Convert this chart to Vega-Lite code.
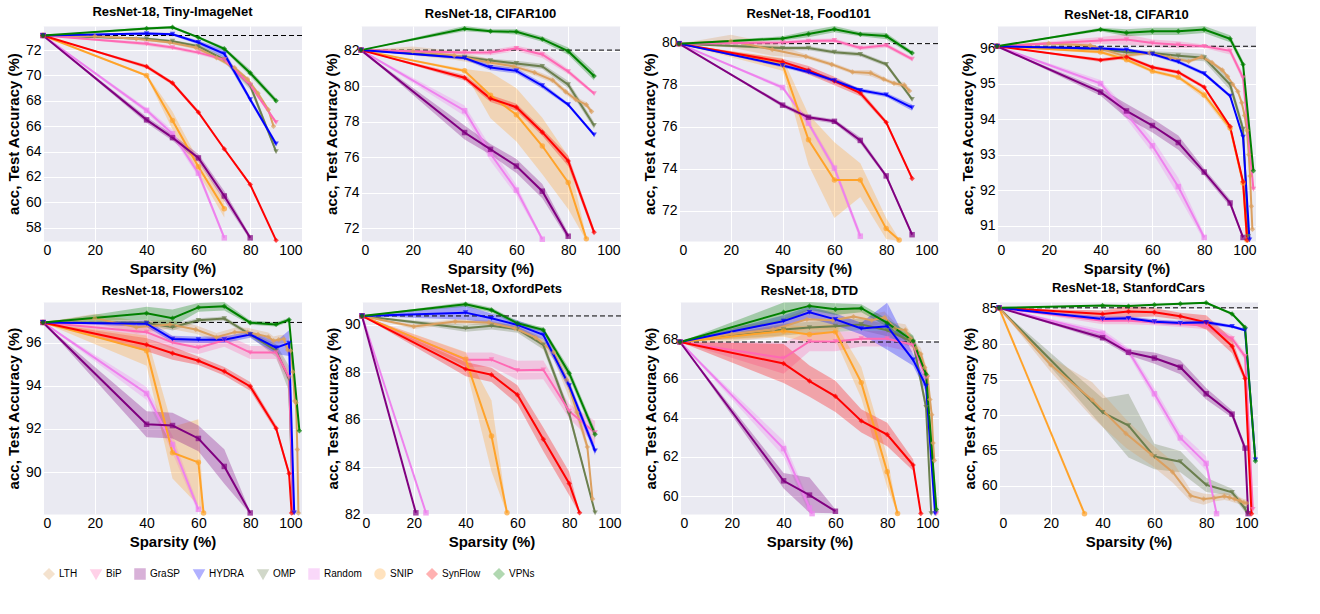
{
"$schema": "https://vega.github.io/schema/vega-lite/v6.json",
"spacing": 4,
"config": {
  "view": {"fill": "#eaeaf2", "stroke": "transparent"},
  "axis": {"gridColor": "white", "domain": false, "ticks": false, "labelFontSize": 14, "titleFontSize": 15}
},
"vconcat": [
{"hconcat": [
{
"title": "ResNet-18, Tiny-ImageNet", "width": 259, "height": 215,
"data": {"values": [
{"method":"Dense","sparsity":0,"acc":73.15,"err":0},
{"method":"OMP","sparsity":0,"acc":73.15,"err":0},{"method":"OMP","sparsity":40,"acc":72.9,"err":0.1},{"method":"OMP","sparsity":50,"acc":72.7,"err":0.1},{"method":"OMP","sparsity":60,"acc":72.3,"err":0.15},{"method":"OMP","sparsity":70,"acc":71.25,"err":0.2},{"method":"OMP","sparsity":80,"acc":69.2,"err":0.3},{"method":"OMP","sparsity":90,"acc":64.0,"err":0.2},
{"method":"LTH","sparsity":0,"acc":73.15,"err":0},{"method":"LTH","sparsity":20,"acc":73.1,"err":0.1},{"method":"LTH","sparsity":36,"acc":72.9,"err":0.1},{"method":"LTH","sparsity":49,"acc":72.6,"err":0.1},{"method":"LTH","sparsity":59,"acc":72.2,"err":0.15},{"method":"LTH","sparsity":67,"acc":71.4,"err":0.15},{"method":"LTH","sparsity":74,"acc":70.6,"err":0.15},{"method":"LTH","sparsity":79,"acc":69.7,"err":0.15},{"method":"LTH","sparsity":83,"acc":68.6,"err":0.15},{"method":"LTH","sparsity":87,"acc":67.3,"err":0.15},{"method":"LTH","sparsity":89,"acc":66.0,"err":0.15},
{"method":"Random","sparsity":0,"acc":73.15,"err":0},{"method":"Random","sparsity":40,"acc":67.25,"err":0.2},{"method":"Random","sparsity":50,"acc":65.4,"err":0.3},{"method":"Random","sparsity":60,"acc":62.3,"err":0.3},{"method":"Random","sparsity":70,"acc":57.2,"err":0.2},
{"method":"BiP","sparsity":0,"acc":73.15,"err":0},{"method":"BiP","sparsity":40,"acc":72.5,"err":0.15},{"method":"BiP","sparsity":50,"acc":72.2,"err":0.15},{"method":"BiP","sparsity":60,"acc":71.8,"err":0.15},{"method":"BiP","sparsity":70,"acc":71.25,"err":0.15},{"method":"BiP","sparsity":80,"acc":69.25,"err":0.15},{"method":"BiP","sparsity":90,"acc":66.3,"err":0.15},
{"method":"SNIP","sparsity":0,"acc":73.15,"err":0},{"method":"SNIP","sparsity":40,"acc":70.0,"err":0.1},{"method":"SNIP","sparsity":50,"acc":66.45,"err":0.7},{"method":"SNIP","sparsity":60,"acc":62.8,"err":0.5},{"method":"SNIP","sparsity":70,"acc":59.5,"err":0.7},
{"method":"GraSP","sparsity":0,"acc":73.15,"err":0},{"method":"GraSP","sparsity":40,"acc":66.5,"err":0.25},{"method":"GraSP","sparsity":50,"acc":65.1,"err":0.25},{"method":"GraSP","sparsity":60,"acc":63.5,"err":0.3},{"method":"GraSP","sparsity":70,"acc":60.5,"err":0.4},{"method":"GraSP","sparsity":80,"acc":57.2,"err":0.2},
{"method":"SynFlow","sparsity":0,"acc":73.15,"err":0},{"method":"SynFlow","sparsity":40,"acc":70.7,"err":0.15},{"method":"SynFlow","sparsity":50,"acc":69.4,"err":0.15},{"method":"SynFlow","sparsity":60,"acc":67.1,"err":0.15},{"method":"SynFlow","sparsity":70,"acc":64.2,"err":0.1},{"method":"SynFlow","sparsity":80,"acc":61.4,"err":0.1},{"method":"SynFlow","sparsity":90,"acc":57.0,"err":0.05},
{"method":"HYDRA","sparsity":0,"acc":73.15,"err":0},{"method":"HYDRA","sparsity":40,"acc":73.3,"err":0.1},{"method":"HYDRA","sparsity":50,"acc":73.25,"err":0.1},{"method":"HYDRA","sparsity":60,"acc":72.6,"err":0.15},{"method":"HYDRA","sparsity":70,"acc":71.7,"err":0.3},{"method":"HYDRA","sparsity":80,"acc":68.1,"err":0.2},{"method":"HYDRA","sparsity":90,"acc":64.6,"err":0.2},
{"method":"VPNs","sparsity":0,"acc":73.15,"err":0},{"method":"VPNs","sparsity":40,"acc":73.7,"err":0.1},{"method":"VPNs","sparsity":50,"acc":73.8,"err":0.1},{"method":"VPNs","sparsity":60,"acc":73.0,"err":0.1},{"method":"VPNs","sparsity":70,"acc":72.1,"err":0.15},{"method":"VPNs","sparsity":80,"acc":70.2,"err":0.25},{"method":"VPNs","sparsity":90,"acc":68.0,"err":0.2}
]},
"layer": [
 {"transform": [{"filter": "datum.method != 'Dense'"}], "mark": {"type": "errorband"}, "encoding": {"x": {"field": "sparsity", "type": "quantitative"}, "y": {"field": "acc", "type": "quantitative"}, "yError": {"field": "err"}, "color": {"field": "method", "type": "nominal"}}},
 {"transform": [{"filter": "datum.method == 'Dense'"}], "mark": {"type": "rule", "strokeDash": [5, 3]}, "encoding": {"y": {"field": "acc", "type": "quantitative"}}},
 {"transform": [{"filter": "datum.method != 'Dense'"}], "mark": {"type": "line"}, "encoding": {
   "x": {"field": "sparsity", "type": "quantitative", "scale": {"domain": [0, 100], "nice": false}, "title": "Sparsity (%)"},
   "y": {"field": "acc", "type": "quantitative", "scale": {"zero": false, "nice": false}, "title": "Test Accuracy (%)"},
   "color": {"field": "method", "type": "nominal", "scale": {"domain": ["LTH","BiP","GraSP","HYDRA","OMP","Random","SNIP","SynFlow","VPNs"], "range": ["#dba060","#ff69b4","#800080","#0000ff","#6b7f4e","#ee82ee","#ffa32a","#ff0000","#008000"]}, "legend": {"orient": "bottom", "title": null}}}},
 {"transform": [{"filter": "datum.method != 'Dense'"}], "mark": {"type": "point", "filled": true}, "encoding": {"x": {"field": "sparsity", "type": "quantitative"}, "y": {"field": "acc", "type": "quantitative"}, "color": {"field": "method", "type": "nominal"},
   "shape": {"field": "method", "type": "nominal", "scale": {"domain": ["LTH","BiP","GraSP","HYDRA","OMP","Random","SNIP","SynFlow","VPNs"], "range": ["diamond","triangle-down","square","triangle-down","triangle-down","square","circle","diamond","diamond"]}, "legend": {"orient": "bottom", "title": null}}}}
]
},
{
"title": "ResNet-18, CIFAR100", "width": 259, "height": 215,
"data": {"values": [
{"method":"Dense","sparsity":0,"acc":82.05,"err":0},
{"method":"OMP","sparsity":0,"acc":82.05,"err":0},{"method":"OMP","sparsity":40,"acc":81.66,"err":0.1},{"method":"OMP","sparsity":50,"acc":81.46,"err":0.1},{"method":"OMP","sparsity":60,"acc":81.3,"err":0.15},{"method":"OMP","sparsity":70,"acc":81.13,"err":0.15},{"method":"OMP","sparsity":80,"acc":80.1,"err":0.2},{"method":"OMP","sparsity":90,"acc":77.8,"err":0.2},
{"method":"LTH","sparsity":0,"acc":82.05,"err":0},{"method":"LTH","sparsity":20,"acc":82.0,"err":0.25},{"method":"LTH","sparsity":36,"acc":81.75,"err":0.25},{"method":"LTH","sparsity":49,"acc":81.37,"err":0.2},{"method":"LTH","sparsity":59,"acc":81.13,"err":0.15},{"method":"LTH","sparsity":67,"acc":80.78,"err":0.15},{"method":"LTH","sparsity":74,"acc":80.35,"err":0.15},{"method":"LTH","sparsity":79,"acc":79.7,"err":0.15},{"method":"LTH","sparsity":83,"acc":79.26,"err":0.15},{"method":"LTH","sparsity":87,"acc":78.97,"err":0.15},{"method":"LTH","sparsity":89,"acc":78.58,"err":0.15},
{"method":"Random","sparsity":0,"acc":82.05,"err":0},{"method":"Random","sparsity":40,"acc":78.63,"err":0.3},{"method":"Random","sparsity":50,"acc":76.2,"err":0.4},{"method":"Random","sparsity":60,"acc":74.15,"err":0.3},{"method":"Random","sparsity":70,"acc":71.38,"err":0.1},
{"method":"BiP","sparsity":0,"acc":82.05,"err":0},{"method":"BiP","sparsity":40,"acc":81.91,"err":0.1},{"method":"BiP","sparsity":50,"acc":81.91,"err":0.15},{"method":"BiP","sparsity":60,"acc":82.15,"err":0.15},{"method":"BiP","sparsity":70,"acc":81.8,"err":0.2},{"method":"BiP","sparsity":80,"acc":80.84,"err":0.15},{"method":"BiP","sparsity":90,"acc":79.6,"err":0.1},
{"method":"SNIP","sparsity":0,"acc":82.05,"err":0},{"method":"SNIP","sparsity":40,"acc":80.88,"err":0.1},{"method":"SNIP","sparsity":50,"acc":79.5,"err":1.3},{"method":"SNIP","sparsity":60,"acc":78.4,"err":1.5},{"method":"SNIP","sparsity":70,"acc":76.64,"err":1.6},{"method":"SNIP","sparsity":80,"acc":74.58,"err":1.5},{"method":"SNIP","sparsity":87,"acc":71.4,"err":0.1},
{"method":"GraSP","sparsity":0,"acc":82.05,"err":0},{"method":"GraSP","sparsity":40,"acc":77.4,"err":0.4},{"method":"GraSP","sparsity":50,"acc":76.45,"err":0.3},{"method":"GraSP","sparsity":60,"acc":75.51,"err":0.4},{"method":"GraSP","sparsity":70,"acc":74.09,"err":0.4},{"method":"GraSP","sparsity":80,"acc":71.55,"err":0.2},
{"method":"SynFlow","sparsity":0,"acc":82.05,"err":0},{"method":"SynFlow","sparsity":40,"acc":80.49,"err":0.15},{"method":"SynFlow","sparsity":50,"acc":79.32,"err":0.2},{"method":"SynFlow","sparsity":60,"acc":78.83,"err":0.2},{"method":"SynFlow","sparsity":70,"acc":77.42,"err":0.2},{"method":"SynFlow","sparsity":80,"acc":75.8,"err":0.3},{"method":"SynFlow","sparsity":90,"acc":71.77,"err":0.2},
{"method":"HYDRA","sparsity":0,"acc":82.05,"err":0},{"method":"HYDRA","sparsity":40,"acc":81.6,"err":0.1},{"method":"HYDRA","sparsity":50,"acc":81.07,"err":0.15},{"method":"HYDRA","sparsity":60,"acc":80.88,"err":0.15},{"method":"HYDRA","sparsity":70,"acc":80.04,"err":0.15},{"method":"HYDRA","sparsity":80,"acc":78.97,"err":0.1},{"method":"HYDRA","sparsity":90,"acc":77.27,"err":0.1},
{"method":"VPNs","sparsity":0,"acc":82.05,"err":0},{"method":"VPNs","sparsity":40,"acc":83.26,"err":0.15},{"method":"VPNs","sparsity":50,"acc":83.12,"err":0.1},{"method":"VPNs","sparsity":60,"acc":83.08,"err":0.15},{"method":"VPNs","sparsity":70,"acc":82.67,"err":0.15},{"method":"VPNs","sparsity":80,"acc":81.99,"err":0.2},{"method":"VPNs","sparsity":90,"acc":80.59,"err":0.25}
]},
"layer": [
 {"transform": [{"filter": "datum.method != 'Dense'"}], "mark": {"type": "errorband"}, "encoding": {"x": {"field": "sparsity", "type": "quantitative"}, "y": {"field": "acc", "type": "quantitative"}, "yError": {"field": "err"}, "color": {"field": "method", "type": "nominal"}}},
 {"transform": [{"filter": "datum.method == 'Dense'"}], "mark": {"type": "rule", "strokeDash": [5, 3]}, "encoding": {"y": {"field": "acc", "type": "quantitative"}}},
 {"transform": [{"filter": "datum.method != 'Dense'"}], "mark": {"type": "line"}, "encoding": {
   "x": {"field": "sparsity", "type": "quantitative", "scale": {"domain": [0, 100], "nice": false}, "title": "Sparsity (%)"},
   "y": {"field": "acc", "type": "quantitative", "scale": {"zero": false, "nice": false}, "title": "Test Accuracy (%)"},
   "color": {"field": "method", "type": "nominal"}}},
 {"transform": [{"filter": "datum.method != 'Dense'"}], "mark": {"type": "point", "filled": true}, "encoding": {"x": {"field": "sparsity", "type": "quantitative"}, "y": {"field": "acc", "type": "quantitative"}, "color": {"field": "method", "type": "nominal"}, "shape": {"field": "method", "type": "nominal"}}}
]
},
{
"title": "ResNet-18, Food101", "width": 259, "height": 215,
"data": {"values": [
{"method":"Dense","sparsity":0,"acc":79.95,"err":0},
{"method":"OMP","sparsity":0,"acc":79.95,"err":0},{"method":"OMP","sparsity":40,"acc":79.74,"err":0.1},{"method":"OMP","sparsity":50,"acc":79.74,"err":0.1},{"method":"OMP","sparsity":60,"acc":79.54,"err":0.1},{"method":"OMP","sparsity":70,"acc":79.44,"err":0.1},{"method":"OMP","sparsity":80,"acc":78.96,"err":0.1},{"method":"OMP","sparsity":90,"acc":77.3,"err":0.1},
{"method":"LTH","sparsity":0,"acc":79.95,"err":0},{"method":"LTH","sparsity":20,"acc":80.07,"err":0.3},{"method":"LTH","sparsity":36,"acc":79.67,"err":0.3},{"method":"LTH","sparsity":49,"acc":79.34,"err":0.1},{"method":"LTH","sparsity":59,"acc":78.96,"err":0.1},{"method":"LTH","sparsity":67,"acc":78.6,"err":0.1},{"method":"LTH","sparsity":74,"acc":78.55,"err":0.15},{"method":"LTH","sparsity":79,"acc":78.26,"err":0.1},{"method":"LTH","sparsity":83,"acc":78.06,"err":0.1},{"method":"LTH","sparsity":87,"acc":77.97,"err":0.15},{"method":"LTH","sparsity":89,"acc":77.7,"err":0.15},
{"method":"Random","sparsity":0,"acc":79.95,"err":0},{"method":"Random","sparsity":40,"acc":77.86,"err":0.1},{"method":"Random","sparsity":50,"acc":76.16,"err":0.15},{"method":"Random","sparsity":60,"acc":74.02,"err":0.2},{"method":"Random","sparsity":70,"acc":70.78,"err":0.2},
{"method":"BiP","sparsity":0,"acc":79.95,"err":0},{"method":"BiP","sparsity":40,"acc":80.0,"err":0.1},{"method":"BiP","sparsity":50,"acc":80.07,"err":0.1},{"method":"BiP","sparsity":60,"acc":80.1,"err":0.1},{"method":"BiP","sparsity":70,"acc":79.74,"err":0.1},{"method":"BiP","sparsity":80,"acc":79.87,"err":0.1},{"method":"BiP","sparsity":90,"acc":79.21,"err":0.1},
{"method":"SNIP","sparsity":0,"acc":79.95,"err":0},{"method":"SNIP","sparsity":40,"acc":78.96,"err":0.3},{"method":"SNIP","sparsity":50,"acc":75.37,"err":1.2},{"method":"SNIP","sparsity":60,"acc":73.45,"err":1.8},{"method":"SNIP","sparsity":70,"acc":73.45,"err":0.8},{"method":"SNIP","sparsity":80,"acc":71.14,"err":0.5},{"method":"SNIP","sparsity":85,"acc":70.6,"err":0.05},
{"method":"GraSP","sparsity":0,"acc":79.95,"err":0},{"method":"GraSP","sparsity":40,"acc":77.02,"err":0.1},{"method":"GraSP","sparsity":50,"acc":76.44,"err":0.1},{"method":"GraSP","sparsity":60,"acc":76.25,"err":0.1},{"method":"GraSP","sparsity":70,"acc":75.34,"err":0.15},{"method":"GraSP","sparsity":80,"acc":73.65,"err":0.1},{"method":"GraSP","sparsity":90,"acc":70.85,"err":0.1},
{"method":"SynFlow","sparsity":0,"acc":79.95,"err":0},{"method":"SynFlow","sparsity":40,"acc":79.08,"err":0.15},{"method":"SynFlow","sparsity":50,"acc":78.68,"err":0.2},{"method":"SynFlow","sparsity":60,"acc":78.17,"err":0.2},{"method":"SynFlow","sparsity":70,"acc":77.6,"err":0.15},{"method":"SynFlow","sparsity":80,"acc":76.2,"err":0.1},{"method":"SynFlow","sparsity":90,"acc":73.53,"err":0.1},
{"method":"HYDRA","sparsity":0,"acc":79.95,"err":0},{"method":"HYDRA","sparsity":40,"acc":78.91,"err":0.1},{"method":"HYDRA","sparsity":50,"acc":78.6,"err":0.1},{"method":"HYDRA","sparsity":60,"acc":78.19,"err":0.1},{"method":"HYDRA","sparsity":70,"acc":77.73,"err":0.1},{"method":"HYDRA","sparsity":80,"acc":77.51,"err":0.1},{"method":"HYDRA","sparsity":90,"acc":76.9,"err":0.15},
{"method":"VPNs","sparsity":0,"acc":79.95,"err":0},{"method":"VPNs","sparsity":40,"acc":80.2,"err":0.1},{"method":"VPNs","sparsity":50,"acc":80.41,"err":0.15},{"method":"VPNs","sparsity":60,"acc":80.64,"err":0.15},{"method":"VPNs","sparsity":70,"acc":80.4,"err":0.1},{"method":"VPNs","sparsity":80,"acc":80.31,"err":0.15},{"method":"VPNs","sparsity":90,"acc":79.5,"err":0.1}
]},
"layer": [
 {"transform": [{"filter": "datum.method != 'Dense'"}], "mark": {"type": "errorband"}, "encoding": {"x": {"field": "sparsity", "type": "quantitative"}, "y": {"field": "acc", "type": "quantitative"}, "yError": {"field": "err"}, "color": {"field": "method", "type": "nominal"}}},
 {"transform": [{"filter": "datum.method == 'Dense'"}], "mark": {"type": "rule", "strokeDash": [5, 3]}, "encoding": {"y": {"field": "acc", "type": "quantitative"}}},
 {"transform": [{"filter": "datum.method != 'Dense'"}], "mark": {"type": "line"}, "encoding": {
   "x": {"field": "sparsity", "type": "quantitative", "scale": {"domain": [0, 100], "nice": false}, "title": "Sparsity (%)"},
   "y": {"field": "acc", "type": "quantitative", "scale": {"zero": false, "nice": false}, "title": "Test Accuracy (%)"},
   "color": {"field": "method", "type": "nominal"}}},
 {"transform": [{"filter": "datum.method != 'Dense'"}], "mark": {"type": "point", "filled": true}, "encoding": {"x": {"field": "sparsity", "type": "quantitative"}, "y": {"field": "acc", "type": "quantitative"}, "color": {"field": "method", "type": "nominal"}, "shape": {"field": "method", "type": "nominal"}}}
]
},
{
"title": "ResNet-18, CIFAR10", "width": 259, "height": 215,
"data": {"values": [
{"method":"Dense","sparsity":0,"acc":96.05,"err":0},
{"method":"OMP","sparsity":0,"acc":96.05,"err":0},{"method":"OMP","sparsity":40,"acc":95.97,"err":0.05},{"method":"OMP","sparsity":50,"acc":95.88,"err":0.05},{"method":"OMP","sparsity":60,"acc":95.86,"err":0.05},{"method":"OMP","sparsity":70,"acc":95.78,"err":0.1},{"method":"OMP","sparsity":80,"acc":95.73,"err":0.1},{"method":"OMP","sparsity":90,"acc":94.97,"err":0.15},{"method":"OMP","sparsity":95,"acc":93.72,"err":0.15},{"method":"OMP","sparsity":97,"acc":90.7,"err":0.05},
{"method":"LTH","sparsity":0,"acc":96.05,"err":0},{"method":"LTH","sparsity":20,"acc":96.13,"err":0.05},{"method":"LTH","sparsity":36,"acc":96.07,"err":0.05},{"method":"LTH","sparsity":49,"acc":95.78,"err":0.05},{"method":"LTH","sparsity":59,"acc":95.86,"err":0.05},{"method":"LTH","sparsity":67,"acc":95.73,"err":0.05},{"method":"LTH","sparsity":74,"acc":95.62,"err":0.05},{"method":"LTH","sparsity":79,"acc":95.75,"err":0.05},{"method":"LTH","sparsity":83,"acc":95.59,"err":0.05},{"method":"LTH","sparsity":87,"acc":95.38,"err":0.05},{"method":"LTH","sparsity":89,"acc":95.2,"err":0.05},{"method":"LTH","sparsity":91,"acc":94.98,"err":0.05},{"method":"LTH","sparsity":93,"acc":94.78,"err":0.05},{"method":"LTH","sparsity":94.5,"acc":94.46,"err":0.05},{"method":"LTH","sparsity":95.6,"acc":94.1,"err":0.05},{"method":"LTH","sparsity":96.5,"acc":93.68,"err":0.05},{"method":"LTH","sparsity":97.2,"acc":93.0,"err":0.05},{"method":"LTH","sparsity":97.7,"acc":92.4,"err":0.05},{"method":"LTH","sparsity":98.2,"acc":91.55,"err":0.05},{"method":"LTH","sparsity":98.6,"acc":90.9,"err":0.05},
{"method":"Random","sparsity":0,"acc":96.05,"err":0},{"method":"Random","sparsity":40,"acc":95.0,"err":0.1},{"method":"Random","sparsity":50,"acc":94.15,"err":0.15},{"method":"Random","sparsity":60,"acc":93.25,"err":0.2},{"method":"Random","sparsity":70,"acc":92.1,"err":0.25},{"method":"Random","sparsity":80,"acc":90.67,"err":0.1},
{"method":"BiP","sparsity":0,"acc":96.05,"err":0},{"method":"BiP","sparsity":40,"acc":96.21,"err":0.1},{"method":"BiP","sparsity":50,"acc":96.24,"err":0.15},{"method":"BiP","sparsity":60,"acc":96.14,"err":0.1},{"method":"BiP","sparsity":70,"acc":96.09,"err":0.1},{"method":"BiP","sparsity":80,"acc":96.05,"err":0.05},{"method":"BiP","sparsity":90,"acc":95.92,"err":0.1},{"method":"BiP","sparsity":95,"acc":95.16,"err":0.1},{"method":"BiP","sparsity":99,"acc":92.03,"err":0.1},
{"method":"SNIP","sparsity":0,"acc":96.05,"err":0},{"method":"SNIP","sparsity":40,"acc":95.89,"err":0.05},{"method":"SNIP","sparsity":50,"acc":95.67,"err":0.05},{"method":"SNIP","sparsity":60,"acc":95.35,"err":0.05},{"method":"SNIP","sparsity":70,"acc":95.18,"err":0.05},{"method":"SNIP","sparsity":80,"acc":94.68,"err":0.1},{"method":"SNIP","sparsity":90,"acc":93.75,"err":0.1},{"method":"SNIP","sparsity":95,"acc":92.2,"err":0.1},{"method":"SNIP","sparsity":96.5,"acc":90.6,"err":0.02},
{"method":"GraSP","sparsity":0,"acc":96.05,"err":0},{"method":"GraSP","sparsity":40,"acc":94.76,"err":0.1},{"method":"GraSP","sparsity":50,"acc":94.23,"err":0.2},{"method":"GraSP","sparsity":60,"acc":93.82,"err":0.2},{"method":"GraSP","sparsity":70,"acc":93.34,"err":0.2},{"method":"GraSP","sparsity":80,"acc":92.51,"err":0.1},{"method":"GraSP","sparsity":90,"acc":91.64,"err":0.1},{"method":"GraSP","sparsity":95,"acc":90.67,"err":0.05},
{"method":"SynFlow","sparsity":0,"acc":96.05,"err":0},{"method":"SynFlow","sparsity":40,"acc":95.66,"err":0.05},{"method":"SynFlow","sparsity":50,"acc":95.75,"err":0.05},{"method":"SynFlow","sparsity":60,"acc":95.46,"err":0.05},{"method":"SynFlow","sparsity":70,"acc":95.32,"err":0.05},{"method":"SynFlow","sparsity":80,"acc":94.9,"err":0.05},{"method":"SynFlow","sparsity":90,"acc":93.79,"err":0.05},{"method":"SynFlow","sparsity":95,"acc":92.24,"err":0.05},{"method":"SynFlow","sparsity":96.6,"acc":90.6,"err":0.02},
{"method":"HYDRA","sparsity":0,"acc":96.05,"err":0},{"method":"HYDRA","sparsity":40,"acc":95.99,"err":0.05},{"method":"HYDRA","sparsity":50,"acc":95.95,"err":0.05},{"method":"HYDRA","sparsity":60,"acc":95.83,"err":0.05},{"method":"HYDRA","sparsity":70,"acc":95.61,"err":0.05},{"method":"HYDRA","sparsity":80,"acc":95.28,"err":0.05},{"method":"HYDRA","sparsity":90,"acc":94.65,"err":0.05},{"method":"HYDRA","sparsity":95,"acc":93.49,"err":0.05},{"method":"HYDRA","sparsity":97.5,"acc":90.6,"err":0.02},
{"method":"VPNs","sparsity":0,"acc":96.05,"err":0},{"method":"VPNs","sparsity":40,"acc":96.52,"err":0.05},{"method":"VPNs","sparsity":50,"acc":96.43,"err":0.1},{"method":"VPNs","sparsity":60,"acc":96.47,"err":0.1},{"method":"VPNs","sparsity":70,"acc":96.47,"err":0.1},{"method":"VPNs","sparsity":80,"acc":96.52,"err":0.1},{"method":"VPNs","sparsity":90,"acc":96.26,"err":0.1},{"method":"VPNs","sparsity":95,"acc":95.54,"err":0.1},{"method":"VPNs","sparsity":99,"acc":92.55,"err":0.05}
]},
"layer": [
 {"transform": [{"filter": "datum.method != 'Dense'"}], "mark": {"type": "errorband"}, "encoding": {"x": {"field": "sparsity", "type": "quantitative"}, "y": {"field": "acc", "type": "quantitative"}, "yError": {"field": "err"}, "color": {"field": "method", "type": "nominal"}}},
 {"transform": [{"filter": "datum.method == 'Dense'"}], "mark": {"type": "rule", "strokeDash": [5, 3]}, "encoding": {"y": {"field": "acc", "type": "quantitative"}}},
 {"transform": [{"filter": "datum.method != 'Dense'"}], "mark": {"type": "line"}, "encoding": {
   "x": {"field": "sparsity", "type": "quantitative", "scale": {"domain": [0, 100], "nice": false}, "title": "Sparsity (%)"},
   "y": {"field": "acc", "type": "quantitative", "scale": {"zero": false, "nice": false}, "title": "Test Accuracy (%)"},
   "color": {"field": "method", "type": "nominal"}}},
 {"transform": [{"filter": "datum.method != 'Dense'"}], "mark": {"type": "point", "filled": true}, "encoding": {"x": {"field": "sparsity", "type": "quantitative"}, "y": {"field": "acc", "type": "quantitative"}, "color": {"field": "method", "type": "nominal"}, "shape": {"field": "method", "type": "nominal"}}}
]
}
]},
{"hconcat": [
{
"title": "ResNet-18, Flowers102", "width": 259, "height": 212,
"data": {"values": [
{"method":"Dense","sparsity":0,"acc":96.95,"err":0},
{"method":"OMP","sparsity":0,"acc":96.95,"err":0},{"method":"OMP","sparsity":40,"acc":96.94,"err":0.1},{"method":"OMP","sparsity":50,"acc":96.73,"err":0.15},{"method":"OMP","sparsity":60,"acc":97.05,"err":0.1},{"method":"OMP","sparsity":70,"acc":97.13,"err":0.1},{"method":"OMP","sparsity":80,"acc":96.39,"err":0.1},{"method":"OMP","sparsity":90,"acc":95.64,"err":0.3},{"method":"OMP","sparsity":95,"acc":94.33,"err":0.6},{"method":"OMP","sparsity":96.5,"acc":88.1,"err":0.05},
{"method":"LTH","sparsity":0,"acc":96.95,"err":0},{"method":"LTH","sparsity":20,"acc":97.15,"err":0.2},{"method":"LTH","sparsity":36,"acc":96.73,"err":0.3},{"method":"LTH","sparsity":49,"acc":96.86,"err":0.2},{"method":"LTH","sparsity":59,"acc":96.62,"err":0.2},{"method":"LTH","sparsity":67,"acc":96.26,"err":0.2},{"method":"LTH","sparsity":74,"acc":96.5,"err":0.2},{"method":"LTH","sparsity":79,"acc":96.5,"err":0.2},{"method":"LTH","sparsity":83,"acc":96.39,"err":0.2},{"method":"LTH","sparsity":87,"acc":96.28,"err":0.2},{"method":"LTH","sparsity":89,"acc":96.1,"err":0.2},{"method":"LTH","sparsity":91,"acc":96.15,"err":0.2},{"method":"LTH","sparsity":93,"acc":96.18,"err":0.2},{"method":"LTH","sparsity":94.5,"acc":95.67,"err":0.2},{"method":"LTH","sparsity":95.6,"acc":95.64,"err":0.2},{"method":"LTH","sparsity":96.5,"acc":94.65,"err":0.3},{"method":"LTH","sparsity":97.2,"acc":93.3,"err":0.3},{"method":"LTH","sparsity":97.7,"acc":93.22,"err":0.3},{"method":"LTH","sparsity":98.2,"acc":91.05,"err":0.3},{"method":"LTH","sparsity":98.6,"acc":88.1,"err":0.05},
{"method":"Random","sparsity":0,"acc":96.95,"err":0},{"method":"Random","sparsity":40,"acc":93.65,"err":0.3},{"method":"Random","sparsity":50,"acc":91.28,"err":0.4},{"method":"Random","sparsity":60,"acc":88.27,"err":0.2},
{"method":"BiP","sparsity":0,"acc":96.95,"err":0},{"method":"BiP","sparsity":40,"acc":96.5,"err":0.3},{"method":"BiP","sparsity":50,"acc":96.02,"err":0.3},{"method":"BiP","sparsity":60,"acc":95.78,"err":0.3},{"method":"BiP","sparsity":70,"acc":96.12,"err":0.3},{"method":"BiP","sparsity":80,"acc":95.55,"err":0.3},{"method":"BiP","sparsity":90,"acc":95.55,"err":0.3},{"method":"BiP","sparsity":95,"acc":94.41,"err":0.3},{"method":"BiP","sparsity":96.6,"acc":88.1,"err":0.05},
{"method":"SNIP","sparsity":0,"acc":96.95,"err":0},{"method":"SNIP","sparsity":40,"acc":95.64,"err":0.7},{"method":"SNIP","sparsity":50,"acc":90.9,"err":1.2},{"method":"SNIP","sparsity":60,"acc":90.45,"err":2.0},{"method":"SNIP","sparsity":62,"acc":88.1,"err":0.05},
{"method":"GraSP","sparsity":0,"acc":96.95,"err":0},{"method":"GraSP","sparsity":40,"acc":92.22,"err":0.6},{"method":"GraSP","sparsity":50,"acc":92.16,"err":0.6},{"method":"GraSP","sparsity":60,"acc":91.56,"err":0.6},{"method":"GraSP","sparsity":70,"acc":90.26,"err":0.8},{"method":"GraSP","sparsity":80,"acc":88.1,"err":0.05},
{"method":"SynFlow","sparsity":0,"acc":96.95,"err":0},{"method":"SynFlow","sparsity":40,"acc":95.91,"err":0.3},{"method":"SynFlow","sparsity":50,"acc":95.52,"err":0.3},{"method":"SynFlow","sparsity":60,"acc":95.17,"err":0.2},{"method":"SynFlow","sparsity":70,"acc":94.68,"err":0.2},{"method":"SynFlow","sparsity":80,"acc":93.98,"err":0.2},{"method":"SynFlow","sparsity":90,"acc":92.03,"err":0.15},{"method":"SynFlow","sparsity":95,"acc":89.93,"err":0.15},{"method":"SynFlow","sparsity":96,"acc":88.1,"err":0.05},
{"method":"HYDRA","sparsity":0,"acc":96.95,"err":0},{"method":"HYDRA","sparsity":40,"acc":96.89,"err":0.15},{"method":"HYDRA","sparsity":50,"acc":96.18,"err":0.15},{"method":"HYDRA","sparsity":60,"acc":96.15,"err":0.15},{"method":"HYDRA","sparsity":70,"acc":96.15,"err":0.15},{"method":"HYDRA","sparsity":80,"acc":96.39,"err":0.15},{"method":"HYDRA","sparsity":90,"acc":95.78,"err":0.3},{"method":"HYDRA","sparsity":95,"acc":95.99,"err":0.6},{"method":"HYDRA","sparsity":97,"acc":88.1,"err":0.05},
{"method":"VPNs","sparsity":0,"acc":96.95,"err":0},{"method":"VPNs","sparsity":40,"acc":97.38,"err":0.3},{"method":"VPNs","sparsity":50,"acc":97.15,"err":0.4},{"method":"VPNs","sparsity":60,"acc":97.65,"err":0.2},{"method":"VPNs","sparsity":70,"acc":97.7,"err":0.2},{"method":"VPNs","sparsity":80,"acc":96.94,"err":0.1},{"method":"VPNs","sparsity":90,"acc":96.86,"err":0.1},{"method":"VPNs","sparsity":95,"acc":97.07,"err":0.1},{"method":"VPNs","sparsity":99,"acc":91.92,"err":0.1}
]},
"layer": [
 {"transform": [{"filter": "datum.method != 'Dense'"}], "mark": {"type": "errorband"}, "encoding": {"x": {"field": "sparsity", "type": "quantitative"}, "y": {"field": "acc", "type": "quantitative"}, "yError": {"field": "err"}, "color": {"field": "method", "type": "nominal"}}},
 {"transform": [{"filter": "datum.method == 'Dense'"}], "mark": {"type": "rule", "strokeDash": [5, 3]}, "encoding": {"y": {"field": "acc", "type": "quantitative"}}},
 {"transform": [{"filter": "datum.method != 'Dense'"}], "mark": {"type": "line"}, "encoding": {
   "x": {"field": "sparsity", "type": "quantitative", "scale": {"domain": [0, 100], "nice": false}, "title": "Sparsity (%)"},
   "y": {"field": "acc", "type": "quantitative", "scale": {"zero": false, "nice": false}, "title": "Test Accuracy (%)"},
   "color": {"field": "method", "type": "nominal"}}},
 {"transform": [{"filter": "datum.method != 'Dense'"}], "mark": {"type": "point", "filled": true}, "encoding": {"x": {"field": "sparsity", "type": "quantitative"}, "y": {"field": "acc", "type": "quantitative"}, "color": {"field": "method", "type": "nominal"}, "shape": {"field": "method", "type": "nominal"}}}
]
},
{
"title": "ResNet-18, OxfordPets", "width": 259, "height": 212,
"data": {"values": [
{"method":"Dense","sparsity":0,"acc":90.38,"err":0},
{"method":"OMP","sparsity":0,"acc":90.38,"err":0},{"method":"OMP","sparsity":40,"acc":89.86,"err":0.15},{"method":"OMP","sparsity":50,"acc":89.96,"err":0.15},{"method":"OMP","sparsity":60,"acc":89.82,"err":0.15},{"method":"OMP","sparsity":70,"acc":89.16,"err":0.2},{"method":"OMP","sparsity":80,"acc":86.24,"err":0.2},{"method":"OMP","sparsity":90,"acc":82.05,"err":0.05},
{"method":"LTH","sparsity":0,"acc":90.38,"err":0},{"method":"LTH","sparsity":20,"acc":89.93,"err":0.1},{"method":"LTH","sparsity":36,"acc":90.14,"err":0.1},{"method":"LTH","sparsity":49,"acc":90.1,"err":0.1},{"method":"LTH","sparsity":59,"acc":89.86,"err":0.1},{"method":"LTH","sparsity":67,"acc":89.47,"err":0.15},{"method":"LTH","sparsity":74,"acc":88.84,"err":0.3},{"method":"LTH","sparsity":79,"acc":87.68,"err":0.5},{"method":"LTH","sparsity":83,"acc":86.31,"err":0.3},{"method":"LTH","sparsity":87,"acc":84.84,"err":0.2},{"method":"LTH","sparsity":89,"acc":82.63,"err":0.2},
{"method":"Random","sparsity":0,"acc":90.38,"err":0},{"method":"Random","sparsity":24.7,"acc":82.05,"err":0.05},
{"method":"BiP","sparsity":0,"acc":90.38,"err":0},{"method":"BiP","sparsity":40,"acc":88.53,"err":0.3},{"method":"BiP","sparsity":50,"acc":88.53,"err":0.3},{"method":"BiP","sparsity":60,"acc":88.08,"err":0.4},{"method":"BiP","sparsity":70,"acc":88.1,"err":0.4},{"method":"BiP","sparsity":80,"acc":86.35,"err":0.3},{"method":"BiP","sparsity":90,"acc":85.44,"err":0.5},
{"method":"SNIP","sparsity":0,"acc":90.38,"err":0},{"method":"SNIP","sparsity":40,"acc":88.55,"err":0.3},{"method":"SNIP","sparsity":50,"acc":85.3,"err":1.5},{"method":"SNIP","sparsity":56,"acc":82.05,"err":0.05},
{"method":"GraSP","sparsity":0,"acc":90.38,"err":0},{"method":"GraSP","sparsity":20.8,"acc":82.05,"err":0.05},
{"method":"SynFlow","sparsity":0,"acc":90.38,"err":0},{"method":"SynFlow","sparsity":40,"acc":88.13,"err":0.3},{"method":"SynFlow","sparsity":50,"acc":87.89,"err":0.3},{"method":"SynFlow","sparsity":60,"acc":87.05,"err":0.4},{"method":"SynFlow","sparsity":70,"acc":85.16,"err":0.5},{"method":"SynFlow","sparsity":80,"acc":83.29,"err":0.5},{"method":"SynFlow","sparsity":84,"acc":82.05,"err":0.05},
{"method":"HYDRA","sparsity":0,"acc":90.38,"err":0},{"method":"HYDRA","sparsity":40,"acc":90.52,"err":0.3},{"method":"HYDRA","sparsity":50,"acc":90.28,"err":0.2},{"method":"HYDRA","sparsity":60,"acc":90.0,"err":0.2},{"method":"HYDRA","sparsity":70,"acc":89.58,"err":0.2},{"method":"HYDRA","sparsity":80,"acc":87.43,"err":0.2},{"method":"HYDRA","sparsity":90,"acc":84.67,"err":0.2},
{"method":"VPNs","sparsity":0,"acc":90.38,"err":0},{"method":"VPNs","sparsity":40,"acc":90.87,"err":0.1},{"method":"VPNs","sparsity":50,"acc":90.63,"err":0.1},{"method":"VPNs","sparsity":60,"acc":90.07,"err":0.1},{"method":"VPNs","sparsity":70,"acc":89.79,"err":0.1},{"method":"VPNs","sparsity":80,"acc":87.96,"err":0.2},{"method":"VPNs","sparsity":90,"acc":85.37,"err":0.2}
]},
"layer": [
 {"transform": [{"filter": "datum.method != 'Dense'"}], "mark": {"type": "errorband"}, "encoding": {"x": {"field": "sparsity", "type": "quantitative"}, "y": {"field": "acc", "type": "quantitative"}, "yError": {"field": "err"}, "color": {"field": "method", "type": "nominal"}}},
 {"transform": [{"filter": "datum.method == 'Dense'"}], "mark": {"type": "rule", "strokeDash": [5, 3]}, "encoding": {"y": {"field": "acc", "type": "quantitative"}}},
 {"transform": [{"filter": "datum.method != 'Dense'"}], "mark": {"type": "line"}, "encoding": {
   "x": {"field": "sparsity", "type": "quantitative", "scale": {"domain": [0, 100], "nice": false}, "title": "Sparsity (%)"},
   "y": {"field": "acc", "type": "quantitative", "scale": {"zero": false, "nice": false}, "title": "Test Accuracy (%)"},
   "color": {"field": "method", "type": "nominal"}}},
 {"transform": [{"filter": "datum.method != 'Dense'"}], "mark": {"type": "point", "filled": true}, "encoding": {"x": {"field": "sparsity", "type": "quantitative"}, "y": {"field": "acc", "type": "quantitative"}, "color": {"field": "method", "type": "nominal"}, "shape": {"field": "method", "type": "nominal"}}}
]
},
{
"title": "ResNet-18, DTD", "width": 259, "height": 212,
"data": {"values": [
{"method":"Dense","sparsity":0,"acc":67.89,"err":0},
{"method":"OMP","sparsity":0,"acc":67.89,"err":0},{"method":"OMP","sparsity":40,"acc":68.53,"err":0.3},{"method":"OMP","sparsity":50,"acc":68.63,"err":0.3},{"method":"OMP","sparsity":60,"acc":68.7,"err":0.3},{"method":"OMP","sparsity":70,"acc":68.79,"err":0.3},{"method":"OMP","sparsity":80,"acc":68.49,"err":0.3},{"method":"OMP","sparsity":90,"acc":67.89,"err":0.3},{"method":"OMP","sparsity":95,"acc":64.54,"err":0.3},{"method":"OMP","sparsity":97,"acc":59.1,"err":0.02},
{"method":"LTH","sparsity":0,"acc":67.89,"err":0},{"method":"LTH","sparsity":20,"acc":68.3,"err":0.4},{"method":"LTH","sparsity":36,"acc":68.53,"err":0.4},{"method":"LTH","sparsity":49,"acc":69.05,"err":0.5},{"method":"LTH","sparsity":59,"acc":69.01,"err":0.5},{"method":"LTH","sparsity":67,"acc":69.19,"err":0.5},{"method":"LTH","sparsity":74,"acc":69.01,"err":0.3},{"method":"LTH","sparsity":79,"acc":69.15,"err":0.3},{"method":"LTH","sparsity":83,"acc":68.58,"err":0.3},{"method":"LTH","sparsity":87,"acc":68.5,"err":0.3},{"method":"LTH","sparsity":89,"acc":68.06,"err":0.3},{"method":"LTH","sparsity":91,"acc":67.57,"err":0.3},{"method":"LTH","sparsity":93,"acc":67.28,"err":0.3},{"method":"LTH","sparsity":94.5,"acc":66.59,"err":0.3},{"method":"LTH","sparsity":95.6,"acc":66.15,"err":0.3},{"method":"LTH","sparsity":96.5,"acc":64.94,"err":0.3},{"method":"LTH","sparsity":97.2,"acc":64.16,"err":0.3},{"method":"LTH","sparsity":97.7,"acc":62.72,"err":0.3},{"method":"LTH","sparsity":98.2,"acc":61.82,"err":0.3},
{"method":"Random","sparsity":0,"acc":67.89,"err":0},{"method":"Random","sparsity":40,"acc":62.43,"err":0.4},{"method":"Random","sparsity":50,"acc":59.39,"err":0.3},{"method":"Random","sparsity":51,"acc":59.1,"err":0.02},
{"method":"BiP","sparsity":0,"acc":67.89,"err":0},{"method":"BiP","sparsity":40,"acc":67.07,"err":0.8},{"method":"BiP","sparsity":50,"acc":67.92,"err":0.5},{"method":"BiP","sparsity":60,"acc":67.92,"err":0.5},{"method":"BiP","sparsity":70,"acc":68.06,"err":0.4},{"method":"BiP","sparsity":80,"acc":68.06,"err":0.4},{"method":"BiP","sparsity":90,"acc":67.75,"err":0.4},{"method":"BiP","sparsity":95,"acc":66.07,"err":0.4},{"method":"BiP","sparsity":99,"acc":59.1,"err":0.02},
{"method":"SNIP","sparsity":0,"acc":67.89,"err":0},{"method":"SNIP","sparsity":40,"acc":68.46,"err":0.3},{"method":"SNIP","sparsity":50,"acc":68.28,"err":0.4},{"method":"SNIP","sparsity":60,"acc":68.41,"err":0.4},{"method":"SNIP","sparsity":70,"acc":65.81,"err":0.8},{"method":"SNIP","sparsity":80,"acc":61.25,"err":0.8},{"method":"SNIP","sparsity":84,"acc":59.1,"err":0.02},
{"method":"GraSP","sparsity":0,"acc":67.89,"err":0},{"method":"GraSP","sparsity":40,"acc":60.78,"err":0.4},{"method":"GraSP","sparsity":50,"acc":60.05,"err":0.9},{"method":"GraSP","sparsity":60,"acc":59.22,"err":0.1},
{"method":"SynFlow","sparsity":0,"acc":67.89,"err":0},{"method":"SynFlow","sparsity":40,"acc":66.79,"err":1.0},{"method":"SynFlow","sparsity":50,"acc":65.89,"err":0.8},{"method":"SynFlow","sparsity":60,"acc":65.11,"err":0.8},{"method":"SynFlow","sparsity":70,"acc":63.85,"err":0.6},{"method":"SynFlow","sparsity":80,"acc":63.15,"err":0.6},{"method":"SynFlow","sparsity":90,"acc":61.59,"err":0.3},{"method":"SynFlow","sparsity":93,"acc":59.1,"err":0.02},
{"method":"HYDRA","sparsity":0,"acc":67.89,"err":0},{"method":"HYDRA","sparsity":40,"acc":68.96,"err":0.3},{"method":"HYDRA","sparsity":50,"acc":69.41,"err":0.3},{"method":"HYDRA","sparsity":60,"acc":69.05,"err":0.3},{"method":"HYDRA","sparsity":70,"acc":68.58,"err":0.3},{"method":"HYDRA","sparsity":80,"acc":68.7,"err":1.2},{"method":"HYDRA","sparsity":90,"acc":66.98,"err":0.3},{"method":"HYDRA","sparsity":95,"acc":65.63,"err":0.3},{"method":"HYDRA","sparsity":98.5,"acc":59.1,"err":0.02},
{"method":"VPNs","sparsity":0,"acc":67.89,"err":0},{"method":"VPNs","sparsity":40,"acc":69.41,"err":0.5},{"method":"VPNs","sparsity":50,"acc":69.74,"err":0.2},{"method":"VPNs","sparsity":60,"acc":69.57,"err":0.3},{"method":"VPNs","sparsity":70,"acc":69.62,"err":0.2},{"method":"VPNs","sparsity":80,"acc":68.87,"err":0.2},{"method":"VPNs","sparsity":90,"acc":67.94,"err":0.3},{"method":"VPNs","sparsity":95,"acc":66.24,"err":0.2},{"method":"VPNs","sparsity":99,"acc":59.31,"err":0.1}
]},
"layer": [
 {"transform": [{"filter": "datum.method != 'Dense'"}], "mark": {"type": "errorband"}, "encoding": {"x": {"field": "sparsity", "type": "quantitative"}, "y": {"field": "acc", "type": "quantitative"}, "yError": {"field": "err"}, "color": {"field": "method", "type": "nominal"}}},
 {"transform": [{"filter": "datum.method == 'Dense'"}], "mark": {"type": "rule", "strokeDash": [5, 3]}, "encoding": {"y": {"field": "acc", "type": "quantitative"}}},
 {"transform": [{"filter": "datum.method != 'Dense'"}], "mark": {"type": "line"}, "encoding": {
   "x": {"field": "sparsity", "type": "quantitative", "scale": {"domain": [0, 100], "nice": false}, "title": "Sparsity (%)"},
   "y": {"field": "acc", "type": "quantitative", "scale": {"zero": false, "nice": false}, "title": "Test Accuracy (%)"},
   "color": {"field": "method", "type": "nominal"}}},
 {"transform": [{"filter": "datum.method != 'Dense'"}], "mark": {"type": "point", "filled": true}, "encoding": {"x": {"field": "sparsity", "type": "quantitative"}, "y": {"field": "acc", "type": "quantitative"}, "color": {"field": "method", "type": "nominal"}, "shape": {"field": "method", "type": "nominal"}}}
]
},
{
"title": "ResNet-18, StanfordCars", "width": 259, "height": 212,
"data": {"values": [
{"method":"Dense","sparsity":0,"acc":85.1,"err":0},
{"method":"OMP","sparsity":0,"acc":85.1,"err":0},{"method":"OMP","sparsity":40,"acc":70.36,"err":2.0},{"method":"OMP","sparsity":50,"acc":68.5,"err":4.5},{"method":"OMP","sparsity":60,"acc":64.14,"err":1.8},{"method":"OMP","sparsity":70,"acc":63.42,"err":1.5},{"method":"OMP","sparsity":80,"acc":60.16,"err":1.0},{"method":"OMP","sparsity":90,"acc":59.11,"err":0.5},{"method":"OMP","sparsity":95,"acc":56.81,"err":0.5},{"method":"OMP","sparsity":96,"acc":56.1,"err":0.05},
{"method":"LTH","sparsity":0,"acc":85.1,"err":0},{"method":"LTH","sparsity":20,"acc":77.06,"err":1.0},{"method":"LTH","sparsity":36,"acc":72.13,"err":2.5},{"method":"LTH","sparsity":49,"acc":67.39,"err":2.0},{"method":"LTH","sparsity":59,"acc":64.38,"err":1.5},{"method":"LTH","sparsity":67,"acc":61.98,"err":1.5},{"method":"LTH","sparsity":74,"acc":58.63,"err":0.8},{"method":"LTH","sparsity":79,"acc":58.15,"err":0.8},{"method":"LTH","sparsity":83,"acc":58.3,"err":0.5},{"method":"LTH","sparsity":87,"acc":58.54,"err":0.5},{"method":"LTH","sparsity":89,"acc":58.39,"err":0.5},{"method":"LTH","sparsity":91,"acc":58.15,"err":0.5},{"method":"LTH","sparsity":93,"acc":57.91,"err":0.5},{"method":"LTH","sparsity":94.5,"acc":57.68,"err":0.5},{"method":"LTH","sparsity":95.6,"acc":57.58,"err":0.5},
{"method":"Random","sparsity":0,"acc":85.1,"err":0},{"method":"Random","sparsity":40,"acc":81.5,"err":0.5},{"method":"Random","sparsity":50,"acc":78.98,"err":0.5},{"method":"Random","sparsity":60,"acc":72.99,"err":0.8},{"method":"Random","sparsity":70,"acc":66.77,"err":0.8},{"method":"Random","sparsity":80,"acc":63.18,"err":1.0},{"method":"Random","sparsity":84,"acc":56.1,"err":0.05},
{"method":"BiP","sparsity":0,"acc":85.1,"err":0},{"method":"BiP","sparsity":40,"acc":83.29,"err":0.5},{"method":"BiP","sparsity":50,"acc":83.29,"err":0.5},{"method":"BiP","sparsity":60,"acc":83.05,"err":0.4},{"method":"BiP","sparsity":70,"acc":82.81,"err":0.4},{"method":"BiP","sparsity":80,"acc":82.57,"err":0.5},{"method":"BiP","sparsity":90,"acc":80.75,"err":0.5},{"method":"BiP","sparsity":95,"acc":78.26,"err":0.5},{"method":"BiP","sparsity":98,"acc":56.7,"err":0.5},
{"method":"SNIP","sparsity":0,"acc":85.1,"err":0},{"method":"SNIP","sparsity":33,"acc":56.1,"err":0.05},
{"method":"GraSP","sparsity":0,"acc":85.1,"err":0},{"method":"GraSP","sparsity":40,"acc":80.89,"err":0.4},{"method":"GraSP","sparsity":50,"acc":78.83,"err":0.4},{"method":"GraSP","sparsity":60,"acc":78.02,"err":0.8},{"method":"GraSP","sparsity":70,"acc":76.73,"err":1.0},{"method":"GraSP","sparsity":80,"acc":72.99,"err":0.8},{"method":"GraSP","sparsity":90,"acc":70.12,"err":0.5},{"method":"GraSP","sparsity":95,"acc":65.33,"err":0.5},{"method":"GraSP","sparsity":96.2,"acc":56.1,"err":0.05},
{"method":"SynFlow","sparsity":0,"acc":85.1,"err":0},{"method":"SynFlow","sparsity":40,"acc":84.24,"err":0.5},{"method":"SynFlow","sparsity":50,"acc":84.58,"err":0.8},{"method":"SynFlow","sparsity":60,"acc":84.48,"err":0.6},{"method":"SynFlow","sparsity":70,"acc":83.91,"err":0.5},{"method":"SynFlow","sparsity":80,"acc":83.05,"err":1.0},{"method":"SynFlow","sparsity":90,"acc":79.7,"err":1.0},{"method":"SynFlow","sparsity":95,"acc":75.15,"err":0.5},{"method":"SynFlow","sparsity":97.5,"acc":56.1,"err":0.05},
{"method":"HYDRA","sparsity":0,"acc":85.1,"err":0},{"method":"HYDRA","sparsity":40,"acc":83.53,"err":0.3},{"method":"HYDRA","sparsity":50,"acc":83.62,"err":0.3},{"method":"HYDRA","sparsity":60,"acc":83.14,"err":0.3},{"method":"HYDRA","sparsity":70,"acc":82.95,"err":0.3},{"method":"HYDRA","sparsity":80,"acc":83.05,"err":0.3},{"method":"HYDRA","sparsity":90,"acc":82.47,"err":0.2},{"method":"HYDRA","sparsity":95,"acc":81.95,"err":0.2},{"method":"HYDRA","sparsity":99,"acc":63.66,"err":0.2},
{"method":"VPNs","sparsity":0,"acc":85.1,"err":0},{"method":"VPNs","sparsity":40,"acc":85.44,"err":0.1},{"method":"VPNs","sparsity":50,"acc":85.34,"err":0.1},{"method":"VPNs","sparsity":60,"acc":85.54,"err":0.1},{"method":"VPNs","sparsity":70,"acc":85.68,"err":0.1},{"method":"VPNs","sparsity":80,"acc":85.82,"err":0.1},{"method":"VPNs","sparsity":90,"acc":84.24,"err":0.2},{"method":"VPNs","sparsity":95,"acc":82.33,"err":0.3},{"method":"VPNs","sparsity":99,"acc":63.52,"err":0.2}
]},
"layer": [
 {"transform": [{"filter": "datum.method != 'Dense'"}], "mark": {"type": "errorband"}, "encoding": {"x": {"field": "sparsity", "type": "quantitative"}, "y": {"field": "acc", "type": "quantitative"}, "yError": {"field": "err"}, "color": {"field": "method", "type": "nominal"}}},
 {"transform": [{"filter": "datum.method == 'Dense'"}], "mark": {"type": "rule", "strokeDash": [5, 3]}, "encoding": {"y": {"field": "acc", "type": "quantitative"}}},
 {"transform": [{"filter": "datum.method != 'Dense'"}], "mark": {"type": "line"}, "encoding": {
   "x": {"field": "sparsity", "type": "quantitative", "scale": {"domain": [0, 100], "nice": false}, "title": "Sparsity (%)"},
   "y": {"field": "acc", "type": "quantitative", "scale": {"zero": false, "nice": false}, "title": "Test Accuracy (%)"},
   "color": {"field": "method", "type": "nominal"}}},
 {"transform": [{"filter": "datum.method != 'Dense'"}], "mark": {"type": "point", "filled": true}, "encoding": {"x": {"field": "sparsity", "type": "quantitative"}, "y": {"field": "acc", "type": "quantitative"}, "color": {"field": "method", "type": "nominal"}, "shape": {"field": "method", "type": "nominal"}}}
]
}
]}
]
}
